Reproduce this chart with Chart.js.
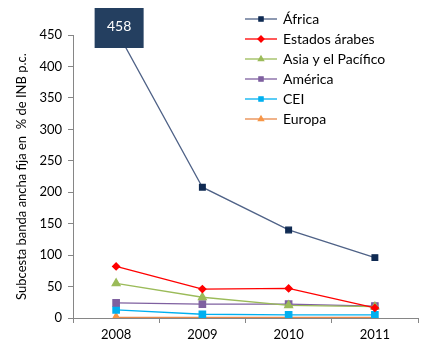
<!DOCTYPE html>
<html>
<head>
<meta charset="utf-8">
<script src="https://cdn.jsdelivr.net/npm/chart.js@4/dist/chart.umd.min.js"></script>
<style>
  html, body { margin: 0; padding: 0; background: #fff; }
  #wrap { width: 429px; height: 360px; }
</style>
</head>
<body>
<div id="wrap"><canvas id="grafico" width="429" height="360"></canvas></div>
<script>
// datos
var anios = ['2008', '2009', '2010', '2011'];
var africa = [458, 208, 140, 96];
var arabes = [82, 46, 47, 16];
var asia = [55, 33, 20, 18];
var america = [24, 22, 22, 19];
var cei = [13, 6, 5, 5];
var europa = [1, 1, 1, 1];
var ejeY = [0, 50, 100, 150, 200, 250, 300, 350, 400, 450];

var fuente = 'Lato, "Open Sans", sans-serif';
var gris = '#868686';

function serie(nombre, datos, linea, punto, forma, radio) {
  return {
    label: nombre,
    data: datos,
    borderColor: linea,
    backgroundColor: punto,
    pointBackgroundColor: punto,
    pointBorderColor: punto,
    pointStyle: forma,
    pointRadius: radio,
    borderWidth: 1.3,
    tension: 0
  };
}

// etiqueta del valor de Africa en 2008 (fuera de escala)
var cajaValor = {
  id: 'cajaValor',
  afterDatasetsDraw: function(chart) {
    var ctx = chart.ctx;
    var x = chart.scales.x.getPixelForValue(0) + 3;
    ctx.save();
    ctx.fillStyle = '#243F60';
    ctx.fillRect(x - 24.5, 8, 49, 40);
    ctx.fillStyle = '#ffffff';
    ctx.font = '14px ' + fuente;
    ctx.textAlign = 'center';
    ctx.textBaseline = 'middle';
    ctx.fillText(String(africa[0]), x, 26);
    ctx.restore();
  }
};

// leyenda dibujada a mano dentro del area
var leyenda = {
  id: 'leyenda',
  afterDraw: function(chart) {
    var ctx = chart.ctx;
    ctx.save();
    chart.data.datasets.forEach(function(ds, i) {
      var y = 19 + i * 20;
      ctx.strokeStyle = ds.borderColor;
      ctx.lineWidth = 1.3;
      ctx.beginPath();
      ctx.moveTo(245, y);
      ctx.lineTo(277, y);
      ctx.stroke();
      ctx.fillStyle = ds.pointBackgroundColor;
      ctx.strokeStyle = ds.pointBorderColor;
      Chart.helpers.drawPoint(ctx, { pointStyle: ds.pointStyle, radius: 3, borderWidth: 1, rotation: 0 }, 261, y);
      ctx.fillStyle = '#000';
      ctx.font = '14px ' + fuente;
      ctx.textAlign = 'left';
      ctx.textBaseline = 'middle';
      ctx.fillText(ds.label, 283, y);
    });
    ctx.restore();
  }
};

var ctx = document.getElementById('grafico').getContext('2d');
var grafico = new Chart(ctx, {
  type: 'line',
  data: {
    labels: anios,
    datasets: [
      serie('África', africa, '#4F6287', '#0F2A52', 'rect', 4),
      serie('Estados árabes', arabes, '#FF0000', '#FF0000', 'rectRot', 3.5),
      serie('Asia y el Pacífico', asia, '#9BBB59', '#9BBB59', 'triangle', 4.5),
      serie('América', america, '#7F60A0', '#7F60A0', 'rect', 4.5),
      serie('CEI', cei, '#00B0F0', '#00B0F0', 'rect', 4.5),
      serie('Europa', europa, '#E8884A', '#F79646', 'triangle', 4.5)
    ]
  },
  options: {
    responsive: false,
    animation: false,
    layout: { padding: { left: 0, right: 11, top: 35, bottom: 0 } },
    plugins: {
      legend: { display: false },
      tooltip: { enabled: false }
    },
    scales: {
      x: {
        offset: true,
        grid: { offset: true, drawOnChartArea: false, tickLength: 5, color: gris },
        border: { color: gris, width: 1 },
        ticks: { color: '#000', font: { family: fuente, size: 13 }, padding: 4 },
        afterFit: function(s) { s.height = 42; }
      },
      y: {
        min: 0,
        max: 450,
        afterBuildTicks: function(s) { s.ticks = ejeY.map(function(v) { return { value: v }; }); },
        grid: { drawOnChartArea: false, tickLength: 5, color: gris },
        border: { color: gris, width: 1 },
        ticks: { color: '#000', font: { family: fuente, size: 13 }, padding: 6 },
        title: {
          display: true,
          text: 'Subcesta banda ancha fija en  % de INB p.c.',
          color: '#000',
          font: { family: fuente, size: 13 },
          padding: { top: 14, bottom: 0 }
        },
        afterFit: function(s) { s.width = 73; }
      }
    }
  },
  plugins: [cajaValor, leyenda]
});
</script>
</body>
</html>
